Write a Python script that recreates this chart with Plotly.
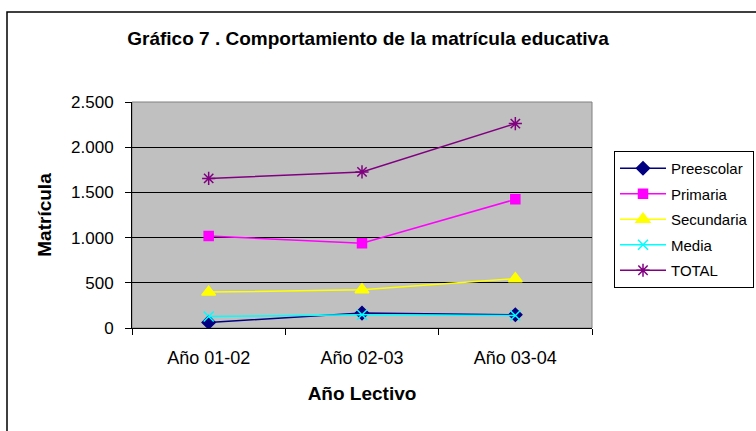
import plotly.graph_objects as go

categories = ["Año 01-02", "Año 02-03", "Año 03-04"]
preescolar = [62, 165, 147]
primaria = [1018, 937, 1423]
secundaria = [397, 423, 546]
media = [128, 147, 139]
total = [1655, 1727, 2261]
y_ticks = [0, 500, 1000, 1500, 2000, 2500]

FONT = "Arial, Liberation Sans, sans-serif"

series = [
    ("Preescolar", preescolar, "#000080", "diamond", 10),
    ("Primaria", primaria, "#FF00FF", "square", 9),
    ("Secundaria", secundaria, "#FFFF00", "triangle-up", 12),
    ("Media", media, "#00FFFF", "x-thin-open", 10),
    ("TOTAL", total, "#800080", "asterisk-open", 11),
]

fig = go.Figure()
for i, (name, vals, color, sym, sz) in enumerate(series):
    fig.add_trace(go.Scatter(
        x=categories, y=vals, name=name, mode="lines+markers",
        line=dict(color=color, width=1.5),
        marker=dict(symbol=sym, size=sz, color=color,
                    line=dict(color=color, width=1.5)),
        legendgroup="g%d" % i,
    ))

W, H = 756, 431
L, R, T, B = 132, 592, 102, 328

fig.update_layout(
    width=W, height=H,
    margin=dict(l=L, r=W - R, t=T, b=H - B, autoexpand=False),
    paper_bgcolor="white", plot_bgcolor="#C0C0C0",
    separators=",.",
    font=dict(family=FONT, size=16, color="black"),
    title=dict(text="<b>Gráfico 7 . Comportamiento de la matrícula educativa</b>",
               x=368 / W, xanchor="center", y=1 - 38 / H, yanchor="middle",
               font=dict(size=19, family=FONT)),
    showlegend=True,
    legend=dict(x=(614 - L) / (R - L), xanchor="left",
                y=(B - 151) / (B - T), yanchor="top",
                bgcolor="white", bordercolor="black", borderwidth=1,
                font=dict(size=15, family=FONT),
                tracegroupgap=3, itemwidth=46),
    xaxis=dict(
        type="category", range=[-0.5, 2.5],
        tickson="boundaries", ticks="outside", ticklen=6, tickcolor="black",
        showline=True, linecolor="black", linewidth=1, mirror=False,
        showgrid=False, zeroline=False,
        title=dict(text="<b>Año Lectivo</b>", font=dict(size=19, family=FONT), standoff=20),
        tickfont=dict(size=18),
        ticklabelstandoff=13,
    ),
    yaxis=dict(
        range=[0, 2500], tickvals=y_ticks, tickformat=",d",
        ticks="outside", ticklen=6, tickcolor="black",
        showline=True, linecolor="black", linewidth=1,
        showgrid=True, gridcolor="black", gridwidth=1,
        zeroline=False,
        title=dict(text="<b>Matrícula</b>", font=dict(size=19, family=FONT), standoff=14),
        tickfont=dict(size=17),
        ticklabelstandoff=8,
    ),
)

# plot area border (gray top/right)
fig.add_shape(type="rect", xref="paper", yref="paper", x0=0, x1=1, y0=0, y1=1,
              line=dict(color="#808080", width=1), layer="below")
# outer chart border
fig.add_shape(type="rect", xref="paper", yref="paper",
              x0=(7 - L) / (R - L), x1=2.0,
              y0=-2.0, y1=(B - 12) / (B - T),
              line=dict(color="black", width=1.5))

fig.write_html("out.html", config={"displayModeBar": False})

# remove default page margin so the figure sits at the window origin
with open("out.html", "r", encoding="utf-8") as f:
    html = f.read()
html = html.replace("<head>", "<head><style>body{margin:0;padding:0;overflow:hidden}</style>", 1)
with open("out.html", "w", encoding="utf-8") as f:
    f.write(html)
